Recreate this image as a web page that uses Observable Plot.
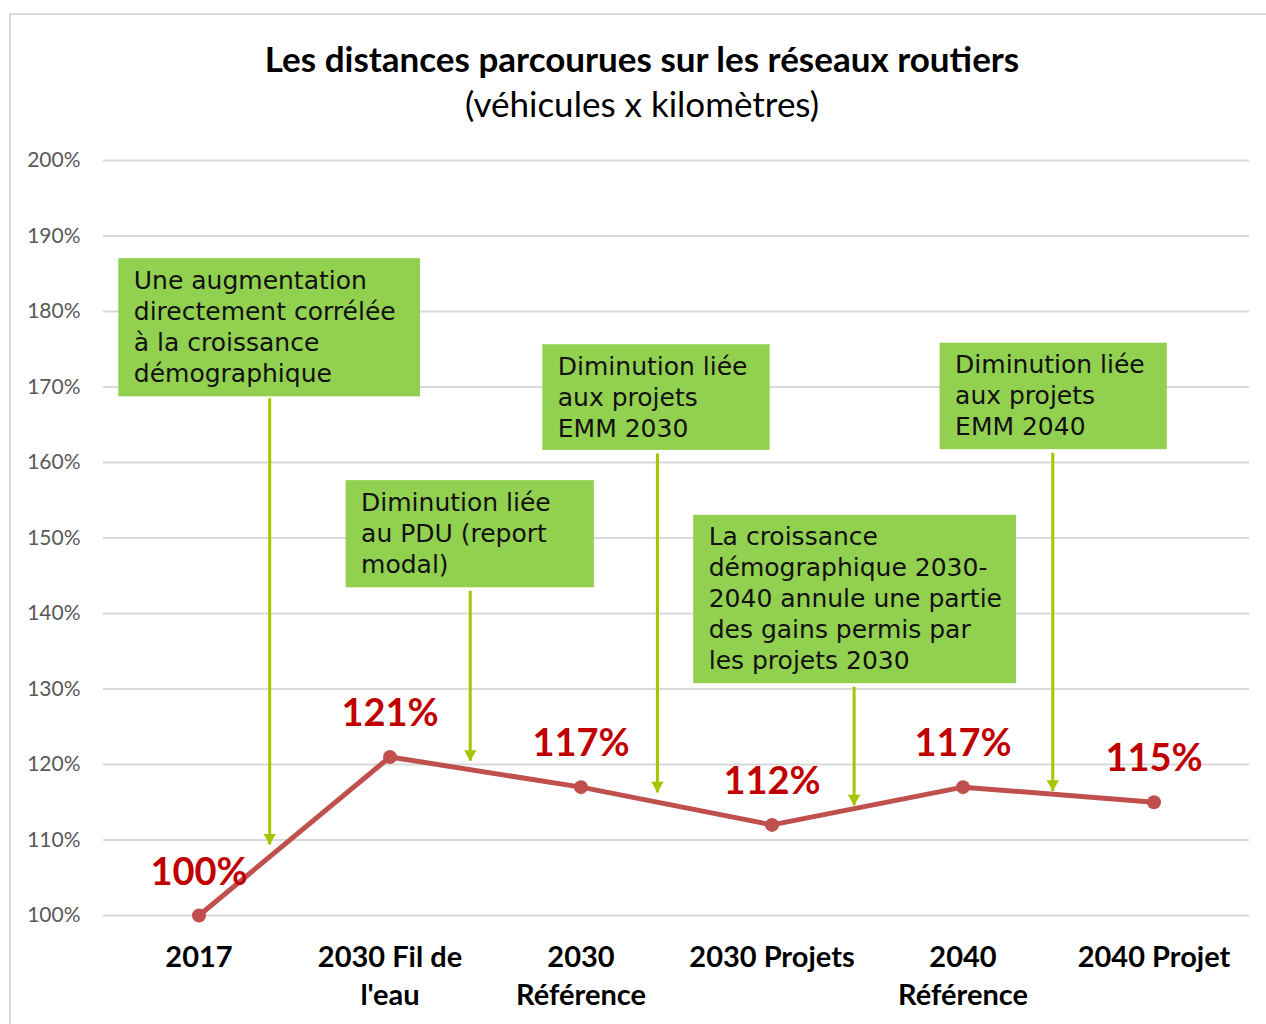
<!DOCTYPE html>
<html lang="fr">
<head>
<meta charset="utf-8">
<script src="https://cdn.jsdelivr.net/npm/d3@7"></script>
<script src="https://cdn.jsdelivr.net/npm/@observablehq/plot@0.6"></script>
<style>
  html, body { margin: 0; padding: 0; background: #fff; overflow: hidden; }
  #page { position: relative; width: 1266px; height: 1024px; overflow: hidden; }
  #frame { position: absolute; left: 9px; top: 13px; width: 1300px; height: 1100px;
           border: 2px solid #d9d9d9; box-sizing: border-box; }
  .title, .subtitle { position: absolute; left: 0; width: 1284px; text-align: center;
           font-family: Lato, "Open Sans", sans-serif; color: #000; white-space: nowrap; }
  .title { top: 37px; font-size: 35px; font-weight: bold; line-height: 42px; }
  .subtitle { top: 82px; font-size: 35px; font-weight: normal; line-height: 42px; }
  #chart { position: absolute; left: 0; top: 140px; }
</style>
</head>
<body>
<div id="page">
  <div id="frame"></div>
  <div class="title">Les distances parcourues sur les réseaux routiers</div>
  <div class="subtitle">(véhicules x kilomètres)</div>
  <div id="chart"></div>
</div>
<script>
// Scenarios along the x axis and their road-distance index (2017 = 100%)
const categories = ["2017", "2030 Fil de\nl'eau", "2030\nRéférence", "2030 Projets", "2040\nRéférence", "2040 Projet"];
const values = [100, 121, 117, 112, 117, 115];
const yTicks = [100, 110, 120, 130, 140, 150, 160, 170, 180, 190, 200];

// Callout texts
const noteTexts = [
  "Une augmentation\ndirectement corrélée\nà la croissance\ndémographique",
  "Diminution liée\nau PDU (report\nmodal)",
  "Diminution liée\naux projets\nEMM 2030",
  "La croissance\ndémographique 2030-\n2040 annule une partie\ndes gains permis par\nles projets 2030",
  "Diminution liée\naux projets\nEMM 2040"
];
// Callout boxes, in data units (x = scenario index, y = percent)
const noteX1 = [-0.42, 0.77, 1.80, 2.59, 3.88];
const noteX2 = [1.16, 2.07, 2.99, 4.28, 5.07];
const noteYTop = [187.0, 157.6, 175.6, 153.0, 175.8];
const noteYBottom = [168.7, 143.4, 161.6, 130.7, 161.7];
// Pointer arrows: x position, start (below box) and tip
const arrowX = [0.37, 1.42, 2.40, 3.43, 4.47];
const arrowFrom = [168.5, 143.0, 161.2, 130.3, 161.3];
const arrowTo = [109.4, 120.5, 116.3, 114.6, 116.5];

const series = categories.map((c, i) => ({i, category: c, value: values[i]}));
const notes = noteTexts.map((t, k) => ({
  text: t, x1: noteX1[k], x2: noteX2[k], y1: noteYTop[k], y2: noteYBottom[k]
}));
const arrows = arrowX.map((x, k) => ({x, y1: arrowFrom[k], y2: arrowTo[k]}));

const lineColor = "#c0504d";
const arrowColor = "#a8c400";
const boxColor = "#92d050";

const chart = Plot.plot({
  width: 1266,
  height: 884,
  marginLeft: 103,
  marginRight: 17,
  marginTop: 20,
  marginBottom: 109,
  style: {fontFamily: "Lato, sans-serif", background: "transparent", overflow: "visible"},
  x: {type: "linear", domain: [-0.5, 5.5]},
  y: {type: "linear", domain: [100, 200]},
  marks: [
    Plot.gridY(yTicks, {stroke: "#d9d9d9", strokeOpacity: 1, strokeWidth: 2}),
    Plot.axisY(yTicks, {
      tickFormat: d => d + "%", tickSize: 0, tickPadding: 23,
      fontSize: 21, fill: "#595959", label: null
    }),
    Plot.axisX(series.map(d => d.i), {
      tickFormat: i => categories[i], tickSize: 0, tickPadding: 25,
      fontSize: 29, fontWeight: "bold", fill: "#000", lineHeight: 1.31, label: null
    }),
    Plot.rect(notes, {x1: "x1", x2: "x2", y1: "y1", y2: "y2", fill: boxColor}),
    Plot.text(notes, {
      x: "x1", y: "y1", text: "text", textAnchor: "start", lineAnchor: "top",
      dx: 15, dy: 8, fontSize: 25, lineHeight: 1.24, fill: "#111",
      fontFamily: "'DejaVu Sans', sans-serif"
    }),
    Plot.link(arrows, {x1: "x", x2: "x", y1: "y1", y2: "y2", stroke: arrowColor, strokeWidth: 3}),
    Plot.dot(arrows, {x: "x", y: "y2", symbol: "triangle", rotate: 180, r: 4.6,
      fill: arrowColor, stroke: "none", dy: -7}),
    Plot.line(series, {x: "i", y: "value", stroke: lineColor, strokeWidth: 5}),
    Plot.dot(series, {x: "i", y: "value", r: 7, fill: lineColor, stroke: "none"}),
    Plot.text(series, {
      x: "i", y: "value", text: d => d.value + "%", dy: -43,
      fontSize: 38, fontWeight: "bold", fill: "#c00000"
    })
  ]
});
document.getElementById("chart").append(chart);
</script>
</body>
</html>
